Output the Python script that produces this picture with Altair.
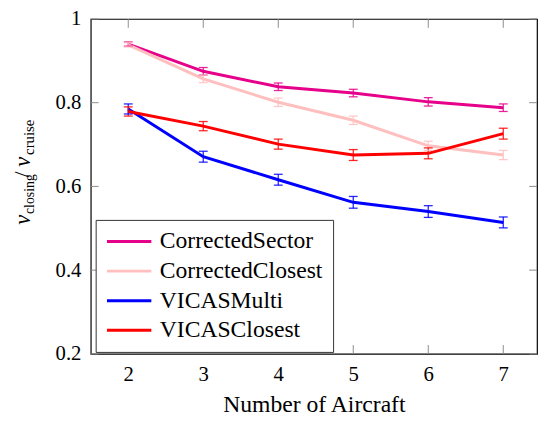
import altair as alt
import pandas as pd

x_vals = [2, 3, 4, 5, 6, 7]
series_names = ["CorrectedSector", "CorrectedClosest", "VICASMulti", "VICASClosest"]
series_colors = ["#E6008A", "#FFBFBF", "#0000FF", "#FF0000"]

sector = [0.940, 0.875, 0.838, 0.823, 0.802, 0.788]
sector_err = [0.005, 0.009, 0.009, 0.009, 0.010, 0.009]
closest = [0.938, 0.857, 0.801, 0.758, 0.697, 0.675]
closest_err = [0.005, 0.009, 0.010, 0.010, 0.011, 0.011]
multi = [0.785, 0.671, 0.616, 0.562, 0.540, 0.514]
multi_err = [0.012, 0.013, 0.013, 0.014, 0.014, 0.013]
vclosest = [0.779, 0.744, 0.701, 0.675, 0.679, 0.726]
vclosest_err = [0.011, 0.011, 0.012, 0.013, 0.013, 0.013]

x_ticks = [2, 3, 4, 5, 6, 7]
y_ticks = [0.2, 0.4, 0.6, 0.8, 1.0]

rows = []
for name, ys, es in zip(series_names,
                        [sector, closest, multi, vclosest],
                        [sector_err, closest_err, multi_err, vclosest_err]):
    for xv, yv, ev in zip(x_vals, ys, es):
        rows.append({"x": xv, "y": yv, "lo": yv - ev, "hi": yv + ev, "series": name})
df = pd.DataFrame(rows)

FONT = "Liberation Serif"
W, H = 453, 340

xscale = alt.Scale(domain=[1.5, 7.45], nice=False, zero=False)
yscale = alt.Scale(domain=[0.2, 1.0], nice=False, zero=False)
cscale = alt.Scale(domain=series_names, range=series_colors)

X = alt.X("x:Q", scale=xscale,
          axis=alt.Axis(values=x_ticks, title="Number of Aircraft", grid=False,
                        domain=False, ticks=False, labelFont=FONT, labelFontSize=21,
                        labelColor="black", labelPadding=10, titleFont=FONT,
                        titleFontSize=24, titleFontWeight="normal", titleColor="black",
                        titlePadding=8, format="d"))
Y = alt.Y("y:Q", scale=yscale,
          axis=alt.Axis(values=y_ticks, title=None, grid=False, domain=False,
                        ticks=False, labelFont=FONT, labelFontSize=21,
                        labelColor="black", labelPadding=10,
                        labelExpr="datum.value == 1 ? '1' : format(datum.value, '.1f')"))

legend = alt.Legend(orient="none", legendX=5, legendY=204, title=None,
                    symbolType="M-2.25,0H2.25", symbolSize=400, symbolStrokeWidth=3,
                    symbolOffset=12, labelFont=FONT, labelFontSize=24,
                    labelColor="black", labelOffset=19, strokeColor="#333333",
                    fillColor="white", padding=10, rowPadding=6, labelLimit=400)

lines = alt.Chart(df).mark_line(strokeWidth=3).encode(
    x=X, y=Y, color=alt.Color("series:N", scale=cscale, legend=legend,
                              sort=series_names))

err_rule = alt.Chart(df).mark_rule(strokeWidth=1.3, opacity=0.85).encode(
    x="x:Q", y="lo:Q", y2="hi:Q",
    color=alt.Color("series:N", scale=cscale, legend=None))
cap_lo = alt.Chart(df).mark_tick(orient="horizontal", size=9, thickness=1.3, opacity=0.85).encode(
    x="x:Q", y="lo:Q", color=alt.Color("series:N", scale=cscale, legend=None))
cap_hi = alt.Chart(df).mark_tick(orient="horizontal", size=9, thickness=1.3, opacity=0.85).encode(
    x="x:Q", y="hi:Q", color=alt.Color("series:N", scale=cscale, legend=None))

# inward ticks
xt = pd.DataFrame({"t": x_ticks})
yt = pd.DataFrame({"t": y_ticks})
TC = "#8c8c8c"
xt_bot = alt.Chart(xt).mark_rule(color=TC, strokeWidth=1).encode(
    x="t:Q", y=alt.value(H), y2=alt.value(H - 9))
xt_top = alt.Chart(xt).mark_rule(color=TC, strokeWidth=1).encode(
    x="t:Q", y=alt.value(0), y2=alt.value(9))
yt_left = alt.Chart(yt).mark_rule(color=TC, strokeWidth=1).encode(
    y="t:Q", x=alt.value(0), x2=alt.value(8))
yt_right = alt.Chart(yt).mark_rule(color=TC, strokeWidth=1).encode(
    y="t:Q", x=alt.value(W), x2=alt.value(W - 8))

# y-axis title pieces: v_closing / v_cruise
one = pd.DataFrame({"a": [0]})
def txt(s, xp, yp, size, style="normal"):
    return alt.Chart(one).mark_text(angle=270, align="left", baseline="alphabetic",
                                    font=FONT, fontSize=size, fontStyle=style,
                                    color="black").encode(
        x=alt.value(xp), y=alt.value(yp), text=alt.value(s))

ytitle = [
    txt("v", -62, 209, 23, "italic"),
    txt("closing", -58, 198, 14),
    txt("/", -63, 161, 22),
    txt("v", -62, 150, 23, "italic"),
    txt("cruise", -58, 138, 15),
]

chart = alt.layer(
    xt_bot, xt_top, yt_left, yt_right,
    lines, err_rule, cap_lo, cap_hi, *ytitle
).properties(
    width=W, height=H,
    autosize=alt.AutoSizeParams(type="none"),
    padding={"left": 84, "top": 8, "right": 1, "bottom": 64},
).configure_view(
    stroke="black", strokeWidth=1.2
)

chart.save("out.html", embed_options={"renderer": "svg", "actions": False})
